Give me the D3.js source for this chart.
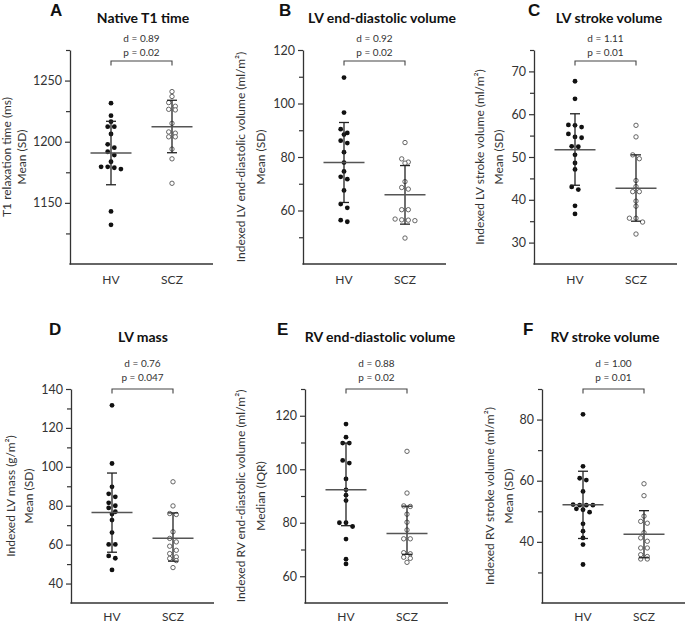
<!DOCTYPE html>
<html>
<head>
<meta charset="utf-8">
<script src="https://cdn.jsdelivr.net/npm/d3@7"></script>
<style>
  body { margin: 0; background: #fff; }
  svg { display: block; font-family: Lato, "Open Sans", sans-serif; }
</style>
</head>
<body>
<svg id="chart" width="685" height="623"></svg>
<script>
// ---- data ----
const groups = ["HV", "SCZ"]
const letters = ["A", "B", "C", "D", "E", "F"]
const titles = ["Native T1 time", "LV end-diastolic volume", "LV stroke volume",
  "LV mass", "RV end-diastolic volume", "RV stroke volume"]
const yLabels = [
  ["T1 relaxation time (ms)", "Mean (SD)"],
  ["Indexed LV end-diastolic volume (ml/m²)", "Mean (SD)"],
  ["Indexed LV stroke volume (ml/m²)", "Mean (SD)"],
  ["Indexed LV mass (g/m²)", "Mean (SD)"],
  ["Indexed RV end-diastolic volume (ml/m²)", "Median (IQR)"],
  ["Indexed RV stroke volume (ml/m²)", "Mean (SD)"]
]
const yDomains = [[1100, 1275], [40, 120], [25, 75], [30, 140], [50, 130], [20, 90]]
const majorTicks = [[1150, 1200, 1250], [60, 80, 100, 120], [30, 40, 50, 60, 70],
  [40, 60, 80, 100, 120, 140], [60, 80, 100, 120], [40, 60, 80]]
const minorTicks = [[1125, 1175, 1225, 1275], [50, 70, 90, 110], [35, 45, 55, 65, 75],
  [50, 70, 90, 110, 130], [70, 90, 110, 130], [30, 50, 70, 90]]
const effectLabels = ["d = 0.89", "d = 0.92", "d = 1.11", "d = 0.76", "d = 0.88", "d = 1.00"]
const pLabels = ["p = 0.02", "p = 0.02", "p = 0.01", "p = 0.047", "p = 0.02", "p = 0.01"]

const hvValues = [
  [1231.5, 1221.3, 1216.4, 1212.3, 1212.3, 1206.3, 1197.9, 1195.1, 1191.8, 1189.1, 1183.6,
    1179.5, 1177.6, 1178.7, 1179.5, 1143, 1132],
  [109.7, 96.6, 90.4, 89, 88.4, 86.1, 85.2, 81.8, 77.9, 74.6, 72.6, 71.7, 67.5, 62.4, 61, 55.8, 56.4],
  [67.7, 63.6, 57.5, 57.0, 57.4, 55.4, 54.7, 54.5, 52.4, 52.5, 50.5, 48.6, 47.1, 43, 42.4, 38.6, 36.7],
  [131.6, 101.7, 89.7, 86.1, 84.6, 81.5, 80, 78.9, 76.9, 75.7, 72.6, 66.2, 60.1, 60.1, 54.2, 53, 47],
  [116.9, 112, 109.8, 109.8, 103.3, 102.3, 96.4, 92.3, 90.3, 88.3, 80, 80, 78.6, 73.9, 66.4, 64.6],
  [81.7, 64.7, 60.8, 60.2, 56.5, 52.2, 52.0, 52.0, 52.0, 50.8, 50.5, 49.7, 45.9, 43.5, 41.3, 39.1, 32.6]
]
const sczValues = [
  [1241, 1237, 1232, 1229, 1226.5, 1226, 1215, 1208, 1207, 1204, 1204, 1194, 1186, 1166],
  [85.4, 79.3, 78.1, 77.7, 70.8, 68.6, 68, 60.3, 60.3, 56.8, 56.4, 56.2, 56.5, 49.7],
  [57.4, 54.7, 50.5, 49.6, 44.5, 43.1, 41.9, 41.9, 39.7, 38.5, 35.7, 34.8, 35.7, 32],
  [92.3, 79.9, 76, 75.5, 66.6, 63.2, 61.4, 59.2, 57.1, 55.4, 53.7, 52.9, 51.8, 48.2],
  [106.7, 91.1, 86.1, 86.3, 83.2, 80.2, 77.3, 74, 74, 68.8, 68.4, 67.1, 66.7, 65.2],
  [59, 55.1, 48.4, 46.7, 46.1, 43, 41.3, 40.2, 38, 38, 35.8, 35.2, 34.4, 34.4]
]
// [centre, lower, upper] : mean (SD) or median (IQR)
const hvStats = [[1190.7, 1164.8, 1216.7], [77.9, 63.0, 92.9], [51.7, 43.4, 60.1],
  [76.5, 56.1, 96.8], [92.3, 78.9, 109.8], [52.1, 41.1, 63.1]]
const sczStats = [[1212.3, 1191, 1233.9], [65.9, 54.9, 76.8], [42.7, 35.0, 50.5],
  [63.3, 51.5, 76.3], [76, 68.2, 86.2], [42.5, 34.8, 50.2]]

// ---- layout ----
const rows = [
  { top: 50, bottom: 264, bracket: 61, title: 23, letter: 16, dY: 41.5, pY: 55.5, xLab: 284 },
  { top: 389, bottom: 603, bracket: 389, title: 342, letter: 335, dY: 367, pY: 380.5, xLab: 621 }
]
const axisX = [70, 303, 534, 71, 305, 542]
const letterX = [50, 279, 528, 49, 277, 523]
const titleX = [143, 382, 609, 143, 380, 605]
const labelX = [[-64, -49], [-63, -43], [-55, -36], [-61, -43], [-65, -45], [-53, -34]]
const axisLen = 143

const svg = d3.select("#chart")

// simple Prism-like scatter: rows of nearby points laid out side by side
function swarm(values, y, step = 6.6, rowGap = 4.2) {
  const sorted = values.slice().sort((a, b) => b - a)
  const out = []
  let row = null
  sorted.forEach((v) => {
    const py = y(v)
    if (!row || py - row.start > rowGap) {
      row = { start: py, pts: [] }
      out.push(row)
    }
    row.pts.push({ v, py })
  })
  const pts = []
  out.forEach((r) => {
    const n = r.pts.length
    r.pts.forEach((p, i) => pts.push({ v: p.v, py: p.py, dx: (i - (n - 1) / 2) * step }))
  })
  return pts
}

letters.forEach((letter, i) => {
  const r = rows[Math.floor(i / 3)]
  const g = svg.append("g").attr("transform", `translate(${axisX[i]},0)`)

  const y = d3.scaleLinear().domain(yDomains[i]).range([r.bottom, r.top])
  const x = d3.scalePoint().domain(groups).range([41, 102])

  // letter + title
  svg.append("text")
    .attr("x", letterX[i]).attr("y", r.letter)
    .attr("font-family", "Liberation Sans, Arial, sans-serif")
    .attr("font-weight", "bold").attr("font-size", "17px").attr("fill", "#111")
    .text(letter)
  svg.append("text")
    .attr("x", titleX[i]).attr("y", r.title)
    .attr("text-anchor", "middle").attr("font-weight", "bold")
    .attr("font-size", "14px").attr("fill", "#111")
    .text(titles[i])

  // y axis
  const yAxis = g.append("g")
    .call(d3.axisLeft(y).tickValues(majorTicks[i]).tickSize(5).tickSizeOuter(0).tickPadding(3).tickFormat(d3.format("d")))
  yAxis.select(".domain").attr("stroke", "#333").attr("stroke-width", 1.3)
  yAxis.selectAll(".tick line").attr("stroke", "#333").attr("stroke-width", 1.2)
  yAxis.selectAll(".tick text").attr("font-size", "12.5px").attr("fill", "#333")
    .attr("font-family", "Lato, sans-serif")

  const minorAxis = g.append("g")
    .call(d3.axisLeft(y).tickValues(minorTicks[i]).tickSize(4).tickSizeOuter(0).tickFormat(""))
  minorAxis.select(".domain").remove()
  minorAxis.selectAll(".tick line").attr("stroke", "#333").attr("stroke-width", 1.2)

  // x axis
  g.append("line")
    .attr("x1", -0.6).attr("x2", axisLen).attr("y1", r.bottom).attr("y2", r.bottom)
    .attr("stroke", "#333").attr("stroke-width", 1.3)
  g.selectAll(".xlab").data(groups).enter().append("text")
    .attr("class", "xlab")
    .attr("x", (d) => x(d)).attr("y", r.xLab)
    .attr("text-anchor", "middle").attr("font-size", "12px").attr("fill", "#333")
    .text((d) => d)

  // y labels
  const midY = (r.top + r.bottom) / 2
  yLabels[i].forEach((txt, k) => {
    g.append("text")
      .attr("transform", `translate(${labelX[i][k]},${midY}) rotate(-90)`)
      .attr("text-anchor", "middle").attr("dominant-baseline", "central")
      .attr("font-size", "12px").attr("fill", "#333")
      .text(txt)
  })

  // significance bracket
  const bx1 = x("HV"), bx2 = x("SCZ")
  g.append("path")
    .attr("d", `M${bx1},${r.bracket + 4.5}V${r.bracket}H${bx2}V${r.bracket + 4.5}`)
    .attr("fill", "none").attr("stroke", "#444").attr("stroke-width", 1.1)
  g.append("text")
    .attr("x", (bx1 + bx2) / 2).attr("y", r.dY)
    .attr("text-anchor", "middle").attr("font-size", "10px").attr("fill", "#333")
    .text(effectLabels[i])
  g.append("text")
    .attr("x", (bx1 + bx2) / 2).attr("y", r.pY)
    .attr("text-anchor", "middle").attr("font-size", "10px").attr("fill", "#333")
    .text(pLabels[i])

  // scatter + summary bars
  const sets = [
    { key: "HV", values: hvValues[i], stats: hvStats[i], filled: true },
    { key: "SCZ", values: sczValues[i], stats: sczStats[i], filled: false }
  ]
  sets.forEach((s) => {
    const cx = x(s.key)
    const pts = swarm(s.values, y)
    g.append("g").selectAll("circle")
      .data(pts).enter().append("circle")
      .attr("cx", (d) => cx + d.dx).attr("cy", (d) => d.py)
      .attr("r", s.filled ? 2.4 : 2.2)
      .attr("fill", s.filled ? "#111" : "#fff")
      .attr("stroke", s.filled ? "none" : "#555")
      .attr("stroke-width", 0.9)

    const [c, lo, hi] = s.stats
    g.append("line")
      .attr("x1", cx).attr("x2", cx).attr("y1", y(lo)).attr("y2", y(hi))
      .attr("stroke", "#222").attr("stroke-width", 1.3)
    ;[lo, hi].forEach((v) => {
      g.append("line")
        .attr("x1", cx - 5).attr("x2", cx + 5).attr("y1", y(v)).attr("y2", y(v))
        .attr("stroke", "#222").attr("stroke-width", 1.3)
    })
    g.append("line")
      .attr("x1", cx - 20.5).attr("x2", cx + 20.5).attr("y1", y(c)).attr("y2", y(c))
      .attr("stroke", "#555").attr("stroke-width", 1.5)
  })
})
</script>
</body>
</html>
